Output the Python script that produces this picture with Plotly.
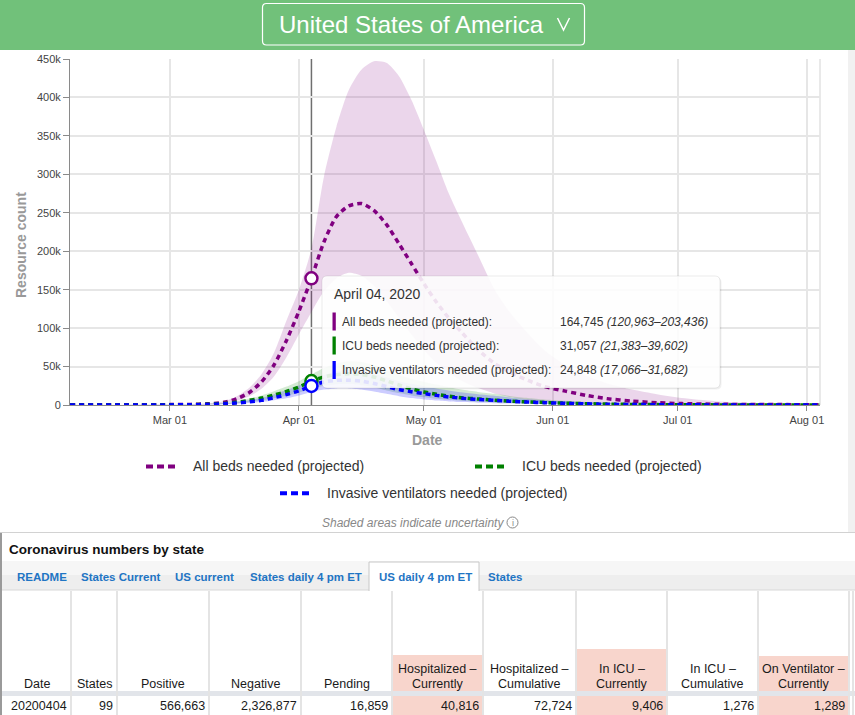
import plotly.graph_objects as go

# ---------------- data ----------------
dates = ["2020-02-06", "2020-02-20", "2020-03-01", "2020-03-06", "2020-03-10", "2020-03-14",
         "2020-03-17", "2020-03-20", "2020-03-23", "2020-03-26", "2020-03-29", "2020-04-01",
         "2020-04-04", "2020-04-07", "2020-04-10", "2020-04-13", "2020-04-16", "2020-04-19",
         "2020-04-22", "2020-04-25", "2020-04-28", "2020-05-01", "2020-05-04", "2020-05-07",
         "2020-05-10", "2020-05-14", "2020-05-18", "2020-05-22", "2020-05-26", "2020-05-30",
         "2020-06-04", "2020-06-09", "2020-06-14", "2020-06-20", "2020-06-26", "2020-07-02",
         "2020-07-10", "2020-07-20", "2020-08-04"]

# values in thousands
all_beds_mean = [0.2, 0.3, 0.5, 0.8, 1.5, 3.5, 8, 16, 30, 52, 84, 122, 164.745, 212, 245, 259, 262,
                 253, 235, 210, 184, 158, 134, 113, 95, 72, 54, 42, 32, 24, 18, 12.5, 8.3, 5, 3,
                 1.8, 1, 0.6, 0.4]
all_beds_upper = [0.3, 0.4, 0.7, 1.1, 2.2, 5, 11, 22, 40, 68, 110, 150, 203.436, 297, 362, 410, 436,
                  447, 445, 428, 397, 358, 317, 275, 240, 195, 150, 118, 93, 71, 52, 38, 28, 20,
                  14, 9, 5, 2.5, 1]
all_beds_lower = [0.1, 0.2, 0.3, 0.5, 1, 2.5, 5.5, 11, 21, 37, 62, 92, 120.963, 148, 165, 172, 168,
                  155, 136, 114, 92, 72, 55, 42, 32, 22, 15, 10, 6.5, 4.3, 2.7, 1.7, 1.1, 0.7, 0.4,
                  0.3, 0.2, 0.1, 0.1]
icu_mean = [0.05, 0.1, 0.2, 0.4, 1, 2, 3.5, 6, 9, 13, 17.5, 23.5, 31.057, 36.5, 39.5, 40.5, 39.5,
            36.5, 31.5, 26, 21, 17, 14, 11.5, 9.5, 7.8, 6.3, 5, 4, 3.2, 2.4, 1.7, 1.2, 0.75, 0.5,
            0.3, 0.15, 0.08, 0.03]
icu_upper = [0.08, 0.15, 0.3, 0.6, 1.4, 2.8, 5, 8.5, 12.5, 18, 24, 31, 39.602, 48, 54, 57, 56, 52,
             46, 39, 34, 30, 26.5, 23, 20, 17, 14.5, 11.5, 9.2, 7.3, 5.5, 4, 2.8, 1.8, 1.1, 0.7,
             0.35, 0.17, 0.06]
icu_lower = [0.03, 0.06, 0.12, 0.25, 0.6, 1.3, 2.3, 4, 6, 8.7, 12, 16, 21.383, 25, 27, 27.5, 26, 23,
             19, 15.5, 12.5, 10, 8, 6.5, 5.3, 4.2, 3.4, 2.7, 2.1, 1.7, 1.2, 0.8, 0.55, 0.35, 0.2,
             0.12, 0.06, 0.03, 0.01]
vent_mean = [0.03, 0.07, 0.15, 0.3, 0.7, 1.5, 2.6, 4, 6, 9.5, 13.5, 18.5, 24.848, 30, 32, 32.3, 31,
             28, 24, 20, 17.3, 14.8, 12.5, 10.5, 8.8, 7.2, 6, 4.8, 3.8, 3, 2.2, 1.5, 1, 0.6, 0.4,
             0.25, 0.12, 0.06, 0.03]
vent_upper = [0.06, 0.12, 0.25, 0.5, 1.1, 2.2, 3.9, 6.2, 9.3, 14, 19.5, 25.5, 31.682, 39, 44, 46,
              45, 41, 36, 31, 27.5, 24.5, 21.5, 19, 16.5, 14, 12, 9.5, 7.5, 6, 4.5, 3.2, 2.2, 1.4,
              0.9, 0.5, 0.3, 0.15, 0.05]
vent_lower = [0.01, 0.03, 0.07, 0.15, 0.4, 0.9, 1.6, 2.6, 4, 6.2, 8.8, 12.5, 17.066, 20, 21.5, 21.5,
              20, 17.5, 14.5, 11.5, 9, 7.2, 5.8, 4.7, 3.8, 3, 2.4, 1.9, 1.5, 1.2, 0.85, 0.6, 0.4,
              0.25, 0.15, 0.1, 0.05, 0.02, 0.01]

series_names = ["All beds needed (projected)", "ICU beds needed (projected)",
                "Invasive ventilators needed (projected)"]
series_colors = ["#800080", "#008000", "#0000ff"]
band_colors = ["rgba(128,0,128,0.16)", "rgba(0,128,0,0.17)", "rgba(0,0,255,0.2)"]

hover_date = "2020-04-04"
hover_title = "April 04, 2020"

x_tick_vals = ["2020-03-01", "2020-04-01", "2020-05-01", "2020-06-01", "2020-07-01", "2020-08-01"]
y_tick_vals = [0, 50000, 100000, 150000, 200000, 250000, 300000, 350000, 400000, 450000]
y_tick_text = ["0", "50k", "100k", "150k", "200k", "250k", "300k", "350k", "400k", "450k"]

country = "United States of America"
table_title = "Coronavirus numbers by state"
tabs = ["README", "States Current", "US current", "States daily 4 pm ET", "US daily 4 pm ET", "States"]
selected_tab = "US daily 4 pm ET"
table_headers = [["Date"], ["States"], ["Positive"], ["Negative"], ["Pending"],
                 ["Hospitalized –", "Currently"], ["Hospitalized –", "Cumulative"],
                 ["In ICU –", "Currently"], ["In ICU –", "Cumulative"],
                 ["On Ventilator –", "Currently"]]
table_row = ["20200404", "99", "566,663", "2,326,877", "16,859", "40,816", "72,724", "9,406",
             "1,276", "1,289"]
table_highlight = [False, False, False, False, False, True, False, True, False, True]

# ---------------- layout helpers ----------------
W, H = 855, 715
L, R, T, B = 70, 820, 59, 405
FONT = "Arial, Liberation Sans, sans-serif"


def px(x):
    return (x - L) / (R - L)


def py(y):
    return (B - y) / (B - T)


shapes = []
annotations = []


def rect(x0, y0, x1, y1, fill, line=None, lw=0, layer="above"):
    shapes.append(dict(type="rect", xref="paper", yref="paper", x0=px(x0), x1=px(x1),
                       y0=py(y1), y1=py(y0), fillcolor=fill,
                       line=dict(color=line or "rgba(0,0,0,0)", width=lw), layer=layer))


def hline(x0, x1, y, color, width=1, dash="solid", layer="above"):
    shapes.append(dict(type="line", xref="paper", yref="paper", x0=px(x0), x1=px(x1),
                       y0=py(y), y1=py(y), line=dict(color=color, width=width, dash=dash),
                       layer=layer))


def vline(x, y0, y1, color, width=1, layer="above"):
    shapes.append(dict(type="line", xref="paper", yref="paper", x0=px(x), x1=px(x),
                       y0=py(y0), y1=py(y1), line=dict(color=color, width=width), layer=layer))


def rrect_path(x0, y0, x1, y1, r):
    def P(x, y):
        return f"{px(x):.5f},{py(y):.5f}"
    return (f"M{P(x0 + r, y0)} L{P(x1 - r, y0)} Q{P(x1, y0)} {P(x1, y0 + r)} "
            f"L{P(x1, y1 - r)} Q{P(x1, y1)} {P(x1 - r, y1)} L{P(x0 + r, y1)} "
            f"Q{P(x0, y1)} {P(x0, y1 - r)} L{P(x0, y0 + r)} Q{P(x0, y0)} {P(x0 + r, y0)} Z")


def rrect(x0, y0, x1, y1, r, fill, line=None, lw=0):
    shapes.append(dict(type="path", xref="paper", yref="paper", path=rrect_path(x0, y0, x1, y1, r),
                       fillcolor=fill, line=dict(color=line or "rgba(0,0,0,0)", width=lw),
                       layer="above"))


def text(x, y, s, size, color, xa="left", ya="middle", angle=0, family=FONT):
    annotations.append(dict(x=px(x), y=py(y), xref="paper", yref="paper", text=s,
                            showarrow=False, xanchor=xa, yanchor=ya, textangle=angle,
                            font=dict(size=size, color=color, family=family), borderpad=0))


# ---------------- traces ----------------
fig = go.Figure()
means = [all_beds_mean, icu_mean, vent_mean]
uppers = [all_beds_upper, icu_upper, vent_upper]
lowers = [all_beds_lower, icu_lower, vent_lower]

for i in range(3):
    fig.add_trace(go.Scatter(x=dates, y=[v * 1000 for v in lowers[i]], mode="lines",
                             line=dict(width=0, shape="spline", smoothing=0.7),
                             showlegend=False, hoverinfo="skip"))
    fig.add_trace(go.Scatter(x=dates, y=[v * 1000 for v in uppers[i]], mode="lines",
                             line=dict(width=0, shape="spline", smoothing=0.7),
                             fill="tonexty", fillcolor=band_colors[i],
                             showlegend=False, hoverinfo="skip"))

for i in range(3):
    fig.add_trace(go.Scatter(x=dates, y=[v * 1000 for v in means[i]], mode="lines",
                             name=series_names[i],
                             line=dict(color=series_colors[i], width=3.5, dash="5px,4px",
                                       shape="spline", smoothing=0.7),
                             showlegend=False))

hi = dates.index(hover_date)
for i in range(3):
    fig.add_trace(go.Scatter(x=[dates[hi]], y=[means[i][hi] * 1000], mode="markers",
                             marker=dict(size=12, color="white",
                                         line=dict(color=series_colors[i], width=2.5)),
                             showlegend=False, hoverinfo="skip"))

# hover crosshair
shapes.append(dict(type="line", xref="x", yref="paper", x0=hover_date, x1=hover_date, y0=0, y1=1,
                   line=dict(color="#6f6f6f", width=1.5), layer="between"))
# right border of plot
vline(820, 59, 405, "#e2e2e2", 1.5, layer="below")

# ---------------- tooltip ----------------
rrect(323.5, 277.5, 721.5, 389.5, 5, "rgba(0,0,0,0.06)")
rrect(322, 276, 720, 388, 5, "rgba(255,255,255,0.88)", "rgba(0,0,0,0.08)", 1)
text(333, 293.5, hover_title, 14, "#333333")
row_y = [321.5, 345.5, 370]
for i in range(3):
    rect(332.5, row_y[i] - 9, 335.8, row_y[i] + 9, series_colors[i])
    text(341, row_y[i], series_names[i] + ":", 12, "#333333")
    lo = f"{lowers[i][hi] * 1000:,.0f}"
    up = f"{uppers[i][hi] * 1000:,.0f}"
    mv = f"{means[i][hi] * 1000:,.0f}"
    text(559, row_y[i], f"{mv} <i>({lo}–{up})</i>", 12, "#333333")

# ---------------- axis titles, legend, caption ----------------
text(21, 245, "<b>Resource count</b>", 14, "#999999", xa="center", angle=-90)
text(427, 440, "<b>Date</b>", 14, "#999999", xa="center")

leg = [(146, 176, 466.5, 192), (475, 505, 466.5, 520.5), (280, 310, 493.3, 326)]
for i, (a, b_, yy, tx) in enumerate(leg):
    hline(a, b_, yy, series_colors[i], 4, dash="7px,4px")
    text(tx, yy, series_names[i], 14, "#333333")

text(321, 522.5, "<i>Shaded areas indicate uncertainty</i>", 12, "#888888")
shapes.append(dict(type="circle", xref="paper", yref="paper", x0=px(507), x1=px(518),
                   y0=py(528), y1=py(517), line=dict(color="#888888", width=1)))
text(512.6, 522.7, "i", 9, "#888888", xa="center")

# ---------------- header band ----------------
rect(0, 0, 855, 50, "#71c17a")
rrect(262.5, 3.5, 584.5, 45, 4, "rgba(0,0,0,0)", "#ffffff", 1.2)
text(411, 24.5, country, 24, "#ffffff", xa="center")
shapes.append(dict(type="path", xref="paper", yref="paper",
                   path=f"M{px(557.5)},{py(18)} L{px(563.5)},{py(30)} L{px(569.5)},{py(18)}",
                   line=dict(color="#ffffff", width=1.5)))
# scrollbar strip
rect(848, 50, 855, 532, "#f1f1f1")

# ---------------- table ----------------
hline(0, 855, 532.5, "#d2d2d2", 1)
rect(2, 561, 855, 575, "#f6f6f6")
rect(2, 575, 855, 590, "#eeeeee")
hline(2, 855, 590, "#d8d8d8", 1)
rect(369, 562, 479, 591, "#ffffff")
shapes.append(dict(type="path", xref="paper", yref="paper",
                   path=f"M{px(369)},{py(591)} L{px(369)},{py(562)} L{px(479)},{py(562)} L{px(479)},{py(591)}",
                   line=dict(color="#c8c8c8", width=1)))
vline(1, 533, 715, "#9a9a9a", 2)

text(8, 549, f"<b>{table_title}</b>", 13.5, "#111111")
tab_x = [16, 80, 174, 249, 377.5, 487]
for t, x in zip(tabs, tab_x):
    text(x, 577, f"<b>{t}</b>", 11.5, "#1f75c4")

col_edges = [2, 71, 117, 209, 301, 392, 483, 576, 667, 758, 849]
pink = "#f8d5cc"
pink_top = {5: 655, 7: 649, 9: 656}
for c in range(len(table_row)):
    if table_highlight[c]:
        rect(col_edges[c] + 1, pink_top[c], col_edges[c + 1] - 1, 691, pink)
        rect(col_edges[c] + 1, 696, col_edges[c + 1] - 1, 715, pink)
rect(2, 691, 855, 696, "#e2e5ea")
for e in col_edges[1:]:
    vline(e, 591, 715, "#e4e4e4", 2)
vline(853, 591, 715, "#e4e4e4", 2)

for c in range(len(table_row)):
    cx = (col_edges[c] + col_edges[c + 1]) / 2
    hdr = table_headers[c]
    if len(hdr) == 1:
        text(cx, 683.5, hdr[0], 12.5, "#1a1a1a", xa="center")
    else:
        text(cx, 669, hdr[0], 12.5, "#1a1a1a", xa="center")
        text(cx, 683.5, hdr[1], 12.5, "#1a1a1a", xa="center")
    text(col_edges[c + 1] - 3.5, 705.5, table_row[c], 12.5, "#1a1a1a", xa="right")

# ---------------- layout ----------------
fig.update_layout(
    width=W, height=H,
    margin=dict(l=L, r=W - R, t=T, b=H - B, pad=0),
    paper_bgcolor="white", plot_bgcolor="white",
    hovermode=False, showlegend=False,
    font=dict(family=FONT, size=11, color="#444444"),
    xaxis=dict(type="date", range=["2020-02-06", "2020-08-04 04:00"],
               tickvals=x_tick_vals, tickformat="%b %d",
               showgrid=True, gridcolor="#e6e6e6", gridwidth=1.5,
               showline=True, linecolor="#8a8a8a", linewidth=1,
               ticks="outside", ticklen=5, tickcolor="#8a8a8a",
               tickfont=dict(size=11, color="#444444"), zeroline=False),
    yaxis=dict(range=[0, 450000], tickvals=y_tick_vals, ticktext=y_tick_text,
               showgrid=True, gridcolor="#e6e6e6", gridwidth=1.5,
               showline=True, linecolor="#8a8a8a", linewidth=1,
               ticks="outside", ticklen=6, tickcolor="#8a8a8a",
               tickfont=dict(size=11, color="#444444"), zeroline=False),
    shapes=shapes, annotations=annotations,
)

fig.write_html("out.html", config={"displayModeBar": False},
               post_script="document.body.style.margin='0';document.body.style.overflow='hidden';")
